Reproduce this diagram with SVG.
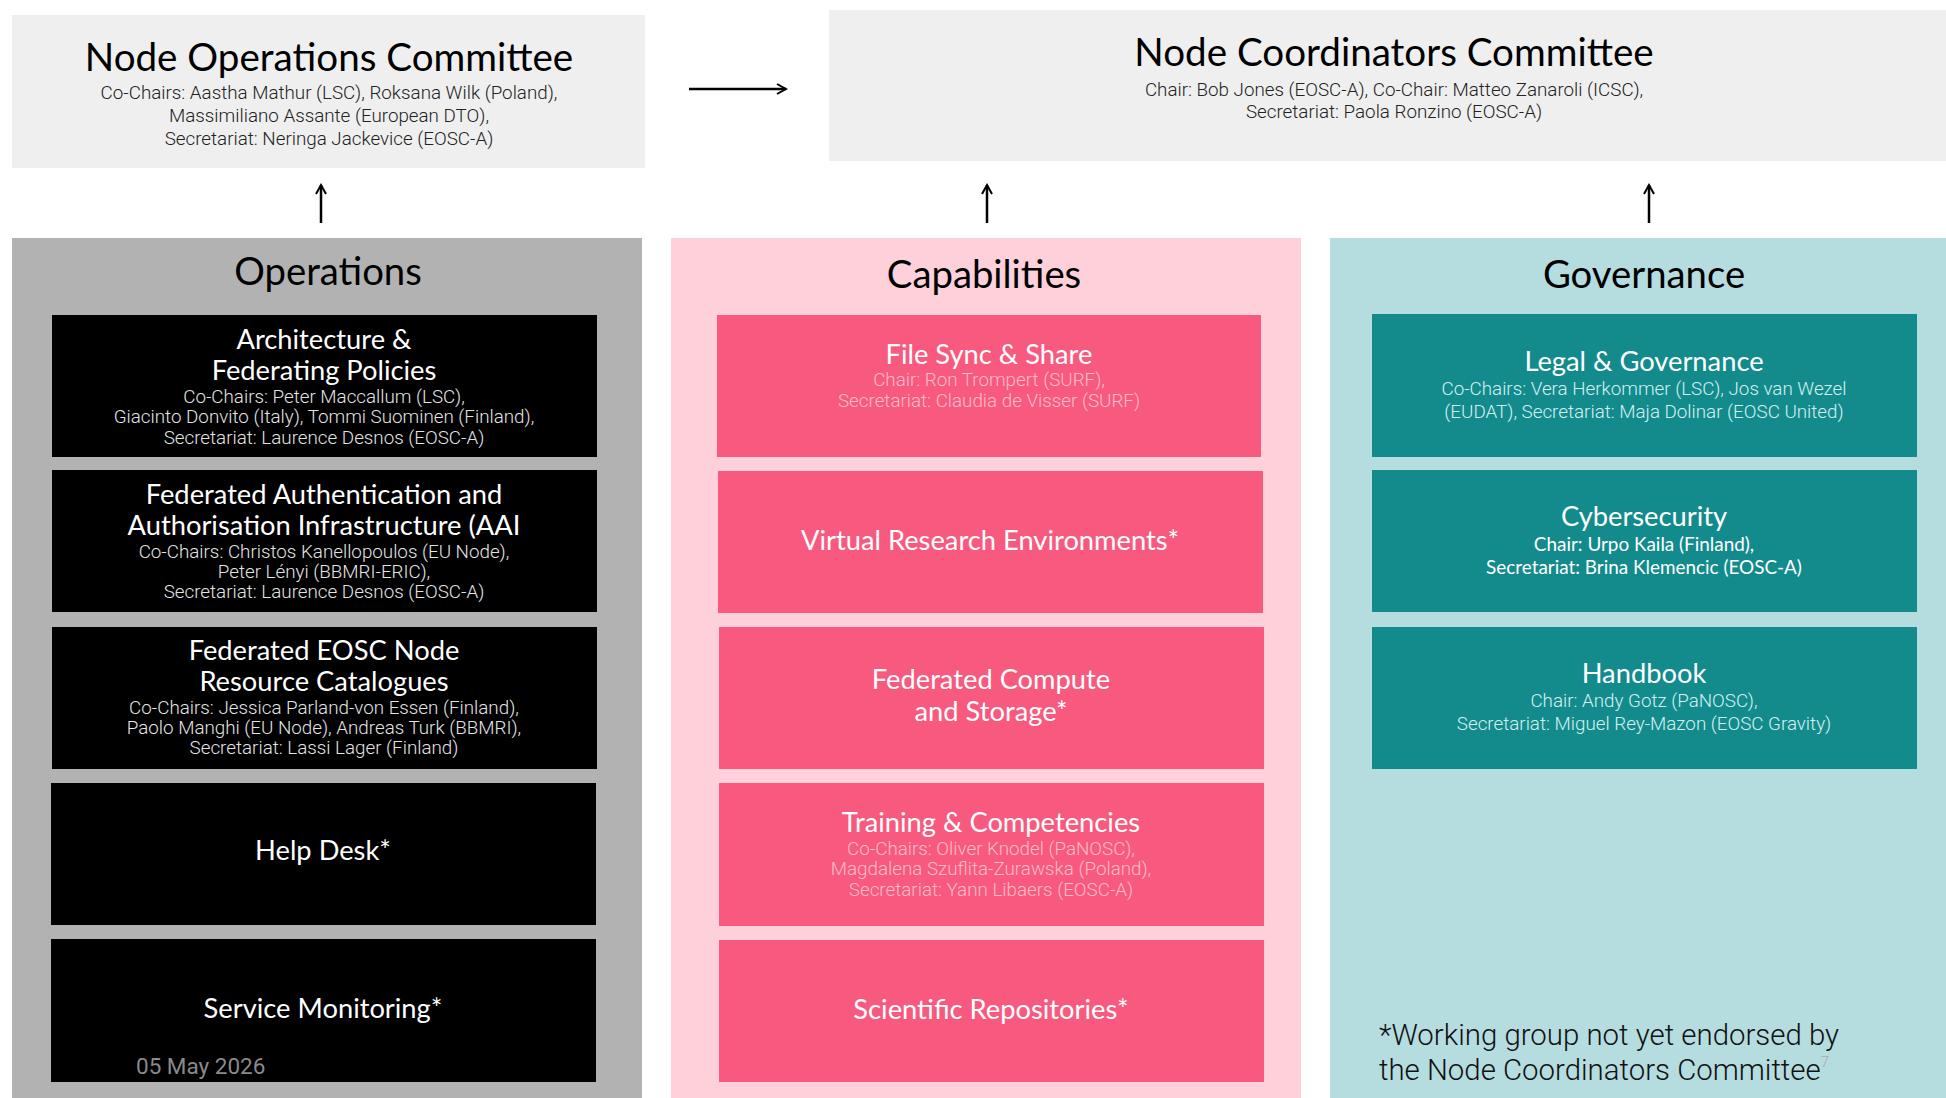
<svg xmlns="http://www.w3.org/2000/svg" width="1946" height="1098" viewBox="0 0 1946 1098">
<defs>
<marker id="ah" viewBox="0 0 12 12" refX="10" refY="6" markerWidth="12" markerHeight="12" markerUnits="userSpaceOnUse" orient="auto">
<path d="M1,1 L10,6 L1,11" fill="none" stroke="#000" stroke-width="2"/>
</marker>
<style>
.ttl{font-family:Lato,"Open Sans",sans-serif;text-anchor:middle;fill:#000}
.h{font-family:Lato,"Open Sans",sans-serif;text-anchor:middle;font-size:27.3px;fill:#fff}
.s{font-family:Roboto,"Liberation Sans",sans-serif;font-weight:300;text-anchor:middle;font-size:18.8px}
.sw{fill:#e4e4e4}
.sp{fill:#ffbccb}
.st{fill:#d6f0f0}
.ops{fill:#000}
.cap{fill:#f75a7e}
.gov{fill:#138b8d}
.conn{stroke:#000;stroke-width:2.5;fill:none;marker-end:url(#ah)}
</style>
</defs>
<rect width="1946" height="1098" fill="#fff"/>

<g id="node-operations-committee">
<rect x="12" y="15" width="633" height="153" fill="#efefef"/>
<text class="ttl" x="329" y="71" font-size="38.6">Node Operations Committee</text>
<text class="s" x="329" y="99" fill="#222">Co-Chairs: Aastha Mathur (LSC), Roksana Wilk (Poland),</text>
<text class="s" x="329" y="122" fill="#222">Massimiliano Assante (European DTO),</text>
<text class="s" x="329" y="145" fill="#222">Secretariat: Neringa Jackevice (EOSC-A)</text>
</g>

<g id="node-coordinators-committee">
<rect x="829" y="10" width="1117" height="151" fill="#efefef"/>
<text class="ttl" x="1394" y="66" font-size="38.6">Node Coordinators Committee</text>
<text class="s" x="1394" y="96" fill="#222">Chair: Bob Jones (EOSC-A), Co-Chair: Matteo Zanaroli (ICSC),</text>
<text class="s" x="1394" y="118" fill="#222">Secretariat: Paola Ronzino (EOSC-A)</text>
</g>

<g id="operations">
<rect x="12" y="238" width="630" height="860" fill="#b2b2b2"/>
<text class="ttl" x="328" y="285" font-size="38.3">Operations</text>
</g>
<g id="capabilities">
<rect x="671" y="238" width="630" height="860" fill="#fdd0da"/>
<text class="ttl" x="984" y="288" font-size="38.3">Capabilities</text>
</g>
<g id="governance">
<rect x="1330" y="238" width="616" height="860" fill="#b5dcdf"/>
<text class="ttl" x="1644" y="288" font-size="38.3">Governance</text>
</g>

<g id="architecture">
<rect class="ops" x="52" y="315" width="545" height="142"/>
<text class="h" x="324" y="349">Architecture &amp;</text>
<text class="h" x="324" y="380">Federating Policies</text>
<text class="s sw" x="324" y="403">Co-Chairs: Peter Maccallum (LSC),</text>
<text class="s sw" x="324" y="423">Giacinto Donvito (Italy), Tommi Suominen (Finland),</text>
<text class="s sw" x="324" y="444">Secretariat: Laurence Desnos (EOSC-A)</text>
</g>
<g id="aai">
<rect class="ops" x="52" y="470" width="545" height="142"/>
<text class="h" x="324" y="504">Federated Authentication and</text>
<text class="h" x="324" y="535">Authorisation Infrastructure (AAI</text>
<text class="s sw" x="324" y="558">Co-Chairs: Christos Kanellopoulos (EU Node),</text>
<text class="s sw" x="324" y="578">Peter Lényi (BBMRI-ERIC),</text>
<text class="s sw" x="324" y="598">Secretariat: Laurence Desnos (EOSC-A)</text>
</g>
<g id="catalogues">
<rect class="ops" x="52" y="627" width="545" height="142"/>
<text class="h" x="324" y="660">Federated EOSC Node</text>
<text class="h" x="324" y="691">Resource Catalogues</text>
<text class="s sw" x="324" y="714">Co-Chairs: Jessica Parland-von Essen (Finland),</text>
<text class="s sw" x="324" y="734">Paolo Manghi (EU Node), Andreas Turk (BBMRI),</text>
<text class="s sw" x="324" y="754">Secretariat: Lassi Lager (Finland)</text>
</g>
<g id="help-desk">
<rect class="ops" x="51" y="783" width="545" height="142"/>
<text class="h" x="323" y="860">Help Desk*</text>
</g>
<g id="service-monitoring">
<rect class="ops" x="51" y="939" width="545" height="143"/>
<text class="h" x="323" y="1018">Service Monitoring*</text>
<text x="136" y="1074" font-family="Roboto,'Liberation Sans',sans-serif" font-size="22.5" fill="#8a8a8a">05 May 2026</text>
</g>

<g id="file-sync">
<rect class="cap" x="717" y="315" width="544" height="142"/>
<text class="h" x="989" y="364">File Sync &amp; Share</text>
<text class="s sp" x="989" y="386">Chair: Ron Trompert (SURF),</text>
<text class="s sp" x="989" y="407">Secretariat: Claudia de Visser (SURF)</text>
</g>
<g id="vre">
<rect class="cap" x="718" y="471" width="545" height="142"/>
<text class="h" x="990" y="550">Virtual Research Environments*</text>
</g>
<g id="compute-storage">
<rect class="cap" x="719" y="627" width="545" height="142"/>
<text class="h" x="991" y="689">Federated Compute</text>
<text class="h" x="991" y="721">and Storage*</text>
</g>
<g id="training">
<rect class="cap" x="719" y="783" width="545" height="143"/>
<text class="h" x="991" y="832">Training &amp; Competencies</text>
<text class="s sp" x="991" y="855">Co-Chairs: Oliver Knodel (PaNOSC),</text>
<text class="s sp" x="991" y="875">Magdalena Szuflita-Zurawska (Poland),</text>
<text class="s sp" x="991" y="896">Secretariat: Yann Libaers (EOSC-A)</text>
</g>
<g id="repositories">
<rect class="cap" x="719" y="940" width="545" height="142"/>
<text class="h" x="991" y="1019">Scientific Repositories*</text>
</g>

<g id="legal-governance">
<rect class="gov" x="1372" y="314" width="545" height="143"/>
<text class="h" x="1644" y="371">Legal &amp; Governance</text>
<text class="s st" x="1644" y="395">Co-Chairs: Vera Herkommer (LSC), Jos van Wezel</text>
<text class="s st" x="1644" y="418">(EUDAT), Secretariat: Maja Dolinar (EOSC United)</text>
</g>
<g id="cybersecurity">
<rect class="gov" x="1372" y="470" width="545" height="142"/>
<text class="h" x="1644" y="526">Cybersecurity</text>
<text x="1644" y="551" font-family="Lato,'Open Sans',sans-serif" font-size="18.9" text-anchor="middle" fill="#fff">Chair: Urpo Kaila (Finland),</text>
<text x="1644" y="574" font-family="Lato,'Open Sans',sans-serif" font-size="18.9" text-anchor="middle" fill="#fff">Secretariat: Brina Klemencic (EOSC-A)</text>
</g>
<g id="handbook">
<rect class="gov" x="1372" y="627" width="545" height="142"/>
<text class="h" x="1644" y="683">Handbook</text>
<text class="s st" x="1644" y="707">Chair: Andy Gotz (PaNOSC),</text>
<text class="s st" x="1644" y="730">Secretariat: Miguel Rey-Mazon (EOSC Gravity)</text>
</g>

<g id="footnote" font-family="Roboto,'Liberation Sans',sans-serif" font-weight="300" font-size="29.4" fill="#111">
<text x="1379" y="1045">*Working group not yet endorsed by</text>
<text x="1379" y="1080">the Node Coordinators Committee<tspan font-size="15" fill="#aaa" dy="-13">7</tspan></text>
</g>

<g id="connectors">
<line class="conn" x1="689" y1="89" x2="786" y2="89"/>
<line class="conn" x1="321" y1="223" x2="321" y2="185"/>
<line class="conn" x1="987" y1="223" x2="987" y2="185"/>
<line class="conn" x1="1649" y1="223" x2="1649" y2="185"/>
</g>
</svg>
